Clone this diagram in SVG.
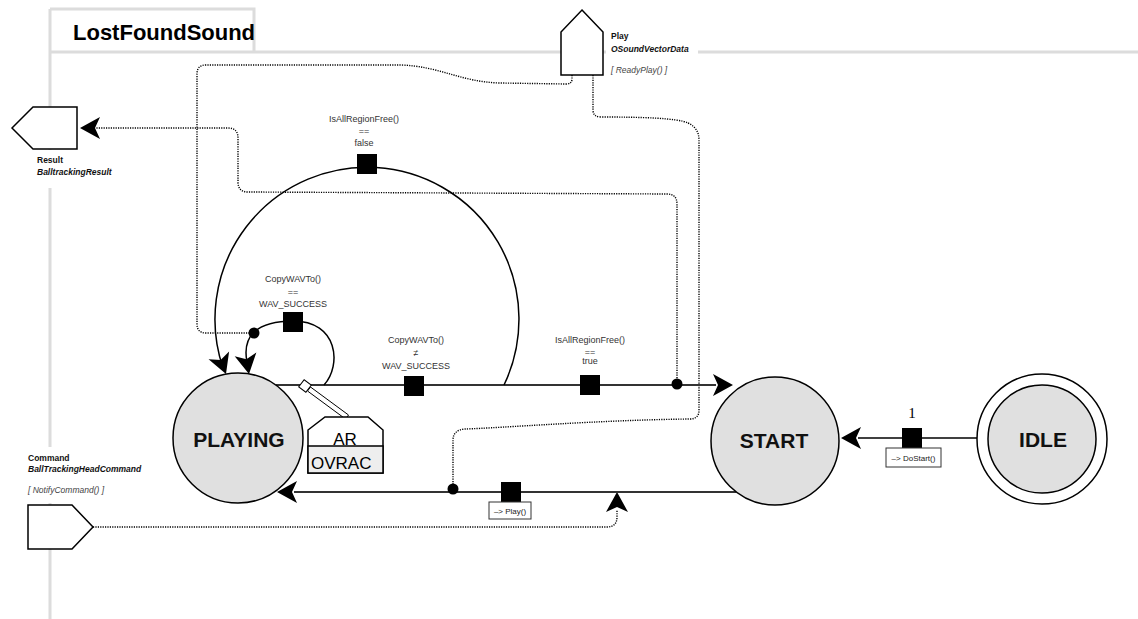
<svg xmlns="http://www.w3.org/2000/svg" xmlns:xlink="http://www.w3.org/1999/xlink" width="1138" height="619" viewBox="0 0 1138 619">
<style>
.frame{fill:none;stroke:#dcdcdc;stroke-width:3}
.state{fill:#e0e0e0;stroke:#000;stroke-width:1.5}
.stxt{font-family:"Liberation Sans",Arial,sans-serif;font-weight:bold;font-size:21px;fill:#111;text-anchor:middle}
.port{fill:#fff;stroke:#000;stroke-width:1.5}
.pname{font-family:"Liberation Sans",Arial,sans-serif;font-weight:bold;font-size:8.5px;fill:#111}
.ptype{font-family:"Liberation Sans",Arial,sans-serif;font-weight:bold;font-style:italic;font-size:8.5px;fill:#111}
.pcall{font-family:"Liberation Sans",Arial,sans-serif;font-style:italic;font-size:8.5px;fill:#444}
.main{fill:none;stroke:#333;stroke-width:2.2}
.arc{fill:none;stroke:#000;stroke-width:1.5}
.dot{fill:none;stroke:#000;stroke-width:1.4;stroke-dasharray:1.2 1.2}
.sq{fill:#000}
.head{fill:#000}
.tl{font-family:"Liberation Sans",Arial,sans-serif;font-size:9px;fill:#333;text-anchor:middle}
.lbox{fill:#fff;stroke:#333;stroke-width:1}
.ltxt{font-family:"Liberation Sans",Arial,sans-serif;font-size:8px;fill:#222;text-anchor:middle}
.bg{fill:#fff}
</style>
<defs>
<path id="ah" d="M0,0 L-20,-11 L-15,0 L-20,11 Z"/>
</defs>
<rect width="1138" height="619" fill="#fff"/>
<g id="frame">
<path class="frame" d="M50 9 V619 M50 9 H254 V52 M50 52 H1138"/>
<text x="73" y="40" font-family="Liberation Sans, Arial, sans-serif" font-weight="bold" font-size="22" fill="#000">LostFoundSound</text>
</g>
<g id="connectors">
<path class="dot" d="M572 75 L572 79 Q572 84 566 84 L500 83 C460 82 440 66 400 65 L206 65 Q197 65 197 74 L197 324 Q197 333 206 333 L254 333"/>
<path class="dot" d="M593 75 L593 110 Q593 117 601 117 C640 117 678 118 688 123 Q699 128 699 140 L699 410 Q699 419 690 419 C600 420 500 428 465 429 Q453 430 453 440 L453 488"/>
<path class="dot" d="M677 383 L677 204 Q677 194 667 194 L248 192 Q238 192 238 182 L238 138 Q238 128 228 128 L96 128"/>
<path class="dot" d="M93 527 L607 527 Q617 527 617 517 L617 510"/>
<use href="#ah" class="head" transform="translate(80 128) rotate(180)"/>
<use href="#ah" class="head" transform="translate(617 492) rotate(-90)"/>
<path class="main" d="M276 385 L716 385"/>
<use href="#ah" class="head" transform="translate(733 385)"/>
<path class="main" d="M736 492 L294 492"/>
<use href="#ah" class="head" transform="translate(277 492) rotate(180)"/>
<path class="arc" d="M977 438 L858 438"/>
<use href="#ah" class="head" transform="translate(841 438) rotate(180)"/>
<path class="arc" d="M504 385 A152 152 0 1 0 223 368"/>
<use href="#ah" class="head" transform="translate(226 374) rotate(69)"/>
<path class="arc" d="M324 385 C342 365 338 321 293 321 C275 321 262 325 254 332 C246 340 245 352 247 362"/>
<use href="#ah" class="head" transform="translate(249 374) rotate(80)"/>
<circle cx="254" cy="333" r="5.5" fill="#000"/>
<circle cx="677" cy="384" r="5.5" fill="#000"/>
<circle cx="453" cy="489" r="5.5" fill="#000"/>
<rect class="sq" x="404" y="376" width="20" height="20"/>
<rect class="sq" x="580" y="375" width="20" height="20"/>
<rect class="sq" x="357" y="154" width="20" height="20"/>
<rect class="sq" x="283" y="312" width="20" height="20"/>
<rect class="sq" x="501" y="482" width="20" height="20"/>
<rect class="sq" x="902" y="428" width="20" height="20"/>
<text class="tl" x="364" y="122">IsAllRegionFree()</text>
<text class="tl" x="364" y="134">==</text>
<text class="tl" x="364" y="146">false</text>
<text class="tl" x="293" y="282">CopyWAVTo()</text>
<text class="tl" x="293" y="295">==</text>
<text class="tl" x="293" y="307">WAV_SUCCESS</text>
<text class="tl" x="416" y="343">CopyWAVTo()</text>
<text class="tl" x="416" y="356">≠</text>
<text class="tl" x="416" y="369">WAV_SUCCESS</text>
<text class="tl" x="590" y="343">IsAllRegionFree()</text>
<text class="tl" x="590" y="355">==</text>
<text class="tl" x="590" y="364">true</text>
<text x="912" y="418" font-family="Liberation Serif, Times New Roman, serif" font-size="15" fill="#000" text-anchor="middle">1</text>
<rect class="lbox" x="886" y="448" width="55" height="19"/>
<text class="ltxt" x="913.5" y="461">–&gt; DoStart()</text>
<rect class="lbox" x="489" y="502" width="42" height="17"/>
<text class="ltxt" x="510" y="514">–&gt; Play()</text>
</g>
<g id="node-result">
<rect class="bg" x="33" y="150" width="90" height="38"/>
<polygon class="port" points="12,128 33,107 77,107 77,149 33,149"/>
<text class="pname" x="37" y="163">Result</text>
<text class="ptype" x="37" y="175">BalltrackingResult</text>
</g>
<g id="node-play">
<rect class="bg" x="606" y="30" width="92" height="48"/>
<polygon class="port" points="582,10 603,32 603,75 561,75 561,32"/>
<text class="pname" x="611" y="39">Play</text>
<text class="ptype" x="611" y="52">OSoundVectorData</text>
<text class="pcall" x="611" y="73">[ ReadyPlay() ]</text>
</g>
<g id="node-command">
<rect class="bg" x="26" y="447" width="124" height="56"/>
<polygon class="port" points="28,505 72,505 93,527 72,549 28,549"/>
<text class="pname" x="28" y="461">Command</text>
<text class="ptype" x="28" y="472">BallTrackingHeadCommand</text>
<text class="pcall" x="28" y="493">[ NotifyCommand() ]</text>
</g>
<g id="node-playing">
<circle class="state" cx="238" cy="438" r="65"/>
<text class="stxt" x="239" y="447">PLAYING</text>
</g>
<g id="node-start">
<circle class="state" cx="775" cy="441" r="64"/>
<text class="stxt" x="774" y="448">START</text>
</g>
<g id="node-idle">
<circle cx="1042" cy="439" r="65" fill="#fff" stroke="#000" stroke-width="1.5"/>
<circle class="state" cx="1042" cy="439" r="54"/>
<text class="stxt" x="1043" y="447">IDLE</text>
</g>
<g id="node-ar">
<polygon points="310.5,387 348.5,415 345.5,419 307.5,391" fill="#fff" stroke="#000" stroke-width="1"/>
<rect x="-4.5" y="-4.5" width="9" height="9" fill="#fff" stroke="#000" stroke-width="1" transform="translate(305 386) rotate(37)"/>
<polygon points="308,430 325,417 368,417 383,430 383,473 308,473" fill="#fff" stroke="#000" stroke-width="1.5"/>
<rect x="308" y="446" width="75" height="27" fill="#eee" stroke="#000" stroke-width="1.5"/>
<text x="345" y="445" font-family="Liberation Sans, Arial, sans-serif" font-size="17" fill="#000" text-anchor="middle">AR</text>
<text x="311" y="469" font-family="Liberation Sans, Arial, sans-serif" font-size="17" fill="#000">OVRAC</text>
</g>
</svg>
